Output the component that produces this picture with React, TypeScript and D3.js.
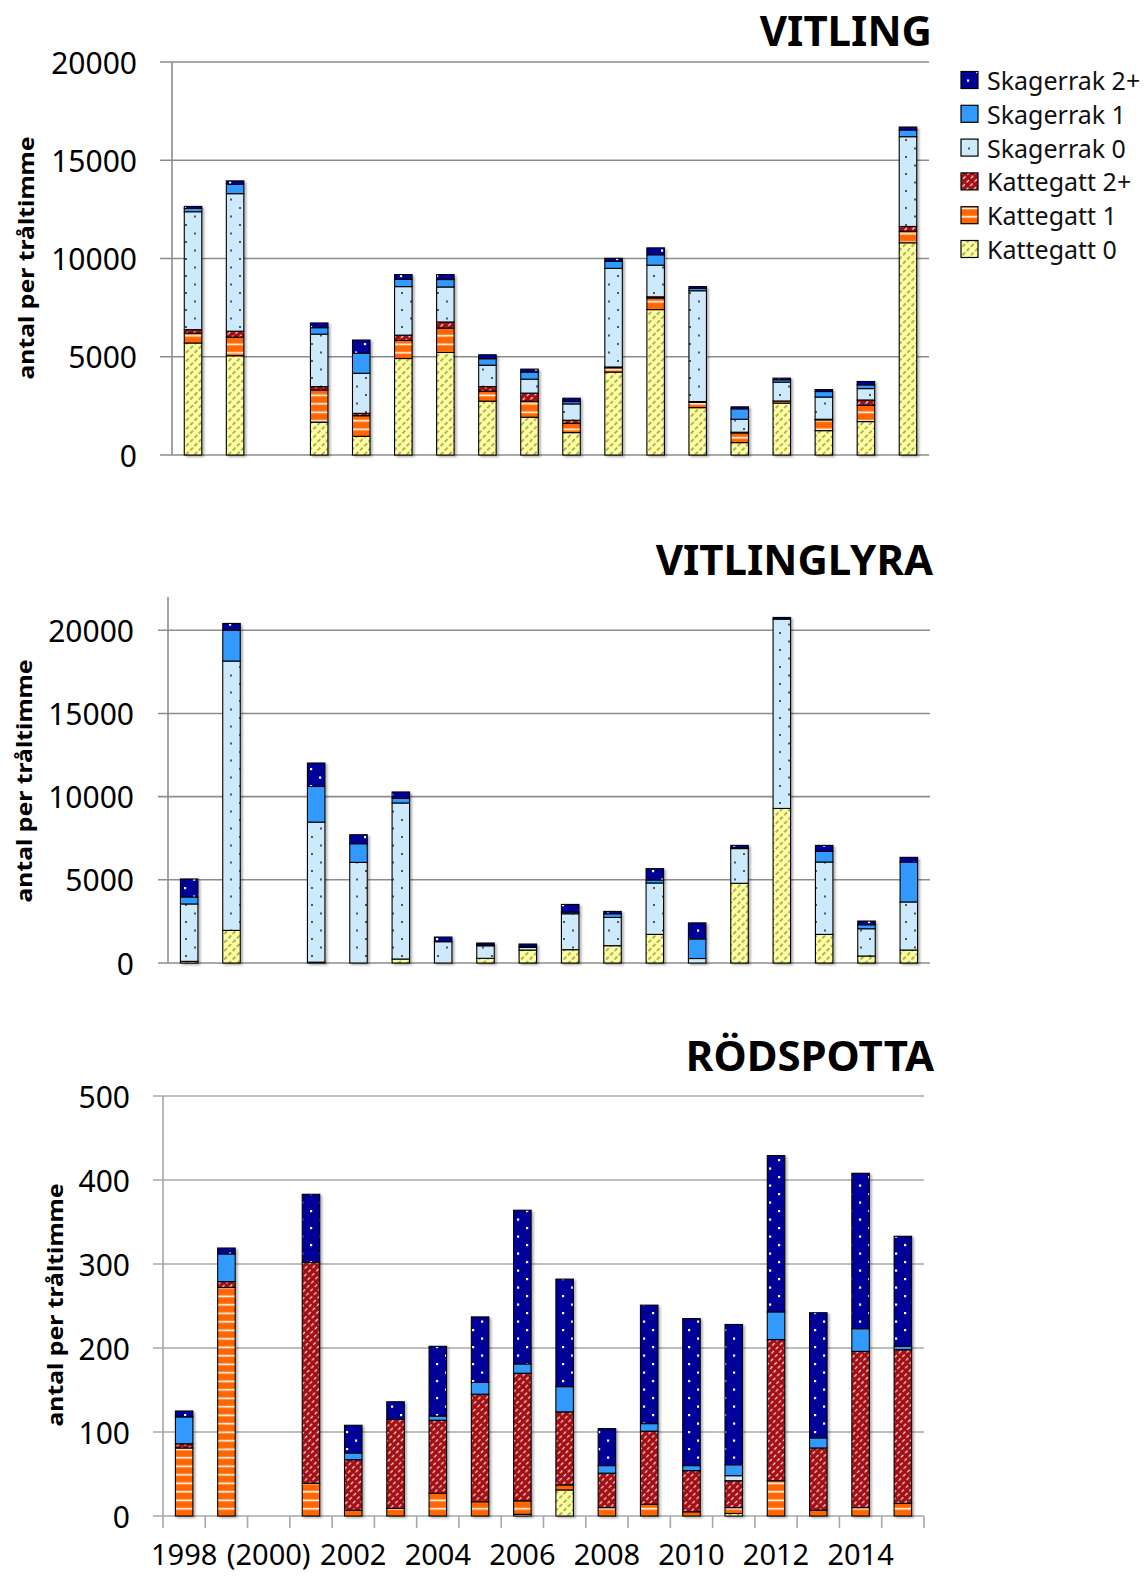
import React from 'react';
import * as d3 from 'd3';

// categories (2000 has no survey)
const YEARS = [1998, 1999, 2000, 2001, 2002, 2003, 2004, 2005, 2006, 2007, 2008, 2009, 2010, 2011, 2012, 2013, 2014, 2015];
const X_LABELS = ['1998', '', '(2000)', '', '2002', '', '2004', '', '2006', '', '2008', '', '2010', '', '2012', '', '2014', ''];

const KEYS = ['k0', 'k1', 'k2', 's0', 's1', 's2'];
const SERIES_NAMES: Record<string, string> = {
  k0: 'Kattegatt 0',
  k1: 'Kattegatt 1',
  k2: 'Kattegatt 2+',
  s0: 'Skagerrak 0',
  s1: 'Skagerrak 1',
  s2: 'Skagerrak 2+',
};

// VITLING
const vitK0 = [5700, 5050, null, 1670, 950, 4910, 5220, 2740, 1920, 1140, 4220, 7400, 2410, 630, 2640, 1240, 1700, 10800];
const vitK1 = [500, 950, null, 1640, 1050, 920, 1240, 510, 820, 470, 230, 590, 270, 500, 110, 560, 830, 590];
const vitK2 = [180, 300, null, 170, 120, 270, 310, 230, 410, 160, 30, 60, 40, 30, 0, 20, 270, 240];
const vitS0 = [6000, 7000, null, 2670, 2040, 2470, 1780, 1090, 710, 830, 5020, 1610, 5640, 660, 960, 1130, 580, 4570];
const vitS1 = [170, 480, null, 330, 1020, 370, 380, 330, 360, 120, 360, 530, 120, 530, 120, 280, 190, 340];
const vitS2 = [100, 170, null, 240, 670, 240, 250, 200, 150, 170, 150, 350, 90, 100, 80, 100, 170, 150];

// VITLINGLYRA
const lyrK0 = [100, 1960, null, 50, 0, 240, 0, 280, 780, 800, 1040, 1720, 0, 4790, 9290, 1720, 420, 780];
const lyrK1 = [0, 0, null, 0, 0, 0, 0, 0, 0, 0, 0, 0, 0, 0, 0, 0, 0, 0];
const lyrK2 = [0, 0, null, 0, 0, 0, 0, 0, 0, 0, 0, 0, 0, 0, 0, 0, 0, 0];
const lyrS0 = [3450, 16190, null, 8420, 6050, 9380, 1280, 760, 160, 2160, 1700, 3090, 270, 2100, 11380, 4350, 1640, 2890];
const lyrS1 = [420, 1860, null, 2140, 1120, 280, 0, 40, 60, 100, 220, 180, 1180, 30, 0, 640, 240, 2400];
const lyrS2 = [1080, 400, null, 1410, 540, 380, 280, 120, 140, 460, 140, 680, 960, 150, 100, 360, 220, 280];

// RÖDSPOTTA
const rodK0 = [0, 0, null, 0, 0, 0, 0, 0, 2, 31, 0, 0, 0, 3, 0, 0, 0, 0];
const rodK1 = [81, 272, null, 39, 7, 9, 27, 17, 16, 6, 10, 14, 5, 7, 42, 7, 10, 15];
const rodK2 = [5, 7, null, 263, 60, 106, 87, 128, 152, 87, 41, 87, 49, 32, 168, 74, 186, 183];
const rodS0 = [0, 0, null, 0, 0, 0, 0, 0, 0, 0, 0, 0, 0, 6, 0, 0, 0, 0];
const rodS1 = [32, 33, null, 0, 8, 0, 5, 14, 11, 30, 9, 9, 6, 13, 33, 12, 27, 4];
const rodS2 = [7, 7, null, 81, 33, 21, 83, 78, 183, 128, 44, 141, 175, 167, 186, 149, 185, 131];

const VIT_TICKS = [0, 5000, 10000, 15000, 20000];
const ROD_TICKS = [0, 100, 200, 300, 400, 500];

const FONT = '"Noto Sans", "Open Sans", sans-serif';

const FILLS: Record<string, string> = {
  k0: 'url(#p-k0)',
  k1: 'url(#p-k1)',
  k2: 'url(#p-k2)',
  s0: 'url(#p-s0)',
  s1: '#3399ff',
  s2: 'url(#p-s2)',
};

type Row = { year: string } & Record<string, number>;

interface PanelProps {
  title: string;
  series: (number | null)[][];
  yMax: number;
  ticks: number[];
  left: number;
  right: number;
  top: number;
  bottom: number;
  labelRight: number;
  tickLen: number;
  titleX: number;
  titleY: number;
  yTitleX: number;
  yTitleY: number;
  gridColor: string;
  showX?: boolean;
}

const Panel: React.FC<PanelProps> = (p) => {
  const y = d3.scaleLinear().domain([0, p.yMax]).range([p.bottom, p.top]);
  const x = d3.scaleBand().domain(YEARS.map(String)).range([p.left, p.right]).padding(0);
  const barW = 17.5;

  const rows: Row[] = YEARS.map((yr, i) => {
    const r: any = { year: String(yr) };
    KEYS.forEach((k, j) => (r[k] = p.series[j][i] ?? 0));
    r.missing = p.series[0][i] == null;
    return r;
  }).filter((r: any) => !r.missing);

  const stacked = d3.stack<Row>().keys(KEYS)(rows);

  return (
    <g>
      {/* grid */}
      {p.ticks.map((t) => (
        <g key={t}>
          <line x1={p.left - p.tickLen} x2={p.right} y1={y(t)} y2={y(t)} stroke={p.gridColor} strokeWidth={1.6} />
          <text
            x={p.labelRight}
            y={y(t)}
            textAnchor="end"
            dominantBaseline="central"
            fontFamily={FONT}
            fontSize={30}
            fill="#000"
          >
            {t}
          </text>
        </g>
      ))}
      <line x1={p.left} x2={p.left} y1={p.top} y2={p.showX ? p.bottom + 12 : p.bottom} stroke={p.gridColor} strokeWidth={1.6} />
      {p.showX &&
        YEARS.map((yr, i) => (
          <g key={yr}>
            <line
              x1={(x(String(yr)) as number) + x.bandwidth()}
              x2={(x(String(yr)) as number) + x.bandwidth()}
              y1={p.bottom}
              y2={p.bottom + 12}
              stroke={p.gridColor}
              strokeWidth={1.6}
            />
            {X_LABELS[i] && (
              <text
                x={(x(String(yr)) as number) + x.bandwidth() / 2}
                y={p.bottom + 49}
                textAnchor="middle"
                fontFamily={FONT}
                fontSize={29}
                fill="#000"
              >
                {X_LABELS[i]}
              </text>
            )}
          </g>
        ))}

      {/* bars */}
      <g filter="url(#shadow)">
        {stacked.map((layer) =>
          layer.map((d) => {
            if (d[1] - d[0] <= 0) return null;
            const x0 = (x(d.data.year) as number) + (x.bandwidth() - barW) / 2;
            return (
              <rect
                key={layer.key + d.data.year}
                x={x0}
                y={y(d[1])}
                width={barW}
                height={Math.max(y(d[0]) - y(d[1]), 0.8)}
                fill={FILLS[layer.key]}
                stroke="#000"
                strokeWidth={1.1}
              />
            );
          })
        )}
      </g>

      <text
        x={p.titleX}
        y={p.titleY}
        textAnchor="end"
        fontFamily={FONT}
        fontWeight="bold"
        fontSize={42}
        fill="#000"
      >
        {p.title}
      </text>
      <text
        transform={`translate(${p.yTitleX},${p.yTitleY}) rotate(-90)`}
        textAnchor="middle"
        dominantBaseline="central"
        fontFamily={FONT}
        fontWeight="bold"
        fontSize={22}
        textLength={243}
        lengthAdjust="spacingAndGlyphs"
        fill="#000"
      >
        antal per tråltimme
      </text>
    </g>
  );
};

const Legend: React.FC = () => {
  const order = [...KEYS].reverse();
  const rowY = d3.scaleLinear().domain([0, 5]).range([80, 249]);
  return (
    <g>
      {order.map((k, i) => (
        <g key={k}>
          <rect x={961} y={rowY(i) - 8.5} width={17} height={17} fill={FILLS[k]} stroke="#000" strokeWidth={1.2} />
          <text x={987} y={rowY(i)} dominantBaseline="central" fontFamily={FONT} fontSize={25} fill="#111">
            {SERIES_NAMES[k]}
          </text>
        </g>
      ))}
    </g>
  );
};

const App: React.FC = () => {
  return (
    <svg
      width={1148}
      height={1577}
      style={{ position: 'absolute', left: 0, top: 0, background: '#fff' }}
    >
      <defs>
        <filter id="shadow" x="-30%" y="-10%" width="160%" height="120%">
          <feDropShadow dx="2" dy="1.5" stdDeviation="1.3" floodColor="#000" floodOpacity="0.3" />
        </filter>
        <pattern id="p-s2" patternUnits="userSpaceOnUse" width={18} height={17}>
          <rect width={18} height={17} fill="#000099" />
          <rect x={4} y={3} width={2.2} height={2.2} fill="#fff" />
          <rect x={13} y={11.5} width={2.2} height={2.2} fill="#fff" />
        </pattern>
        <pattern id="p-s0" patternUnits="userSpaceOnUse" width={18} height={17}>
          <rect width={18} height={17} fill="#cdeafc" />
          <rect x={5} y={3} width={2} height={2} fill="#555" />
          <rect x={14} y={11.5} width={2} height={2} fill="#555" />
        </pattern>
        <pattern id="p-k2" patternUnits="userSpaceOnUse" width={5} height={6} patternTransform="rotate(45)">
          <rect width={5} height={6} fill="#a30f12" />
          <line x1={2.5} x2={2.5} y1={0} y2={6} stroke="#f3d9d9" strokeWidth={1.3} strokeDasharray="3.5 2.5" />
        </pattern>
        <pattern id="p-k1" patternUnits="userSpaceOnUse" width={10} height={8.5}>
          <rect width={10} height={8.5} fill="#ff6600" />
          <rect y={3.5} width={10} height={1.6} fill="#fff" />
        </pattern>
        <pattern id="p-k0" patternUnits="userSpaceOnUse" width={6} height={6} patternTransform="rotate(45)">
          <rect width={6} height={6} fill="#ffff99" />
          <line x1={3} x2={3} y1={0} y2={6} stroke="#6b6b55" strokeWidth={1.1} strokeDasharray="4 2" />
        </pattern>
      </defs>

      <Panel
        title="VITLING"
        series={[vitK0, vitK1, vitK2, vitS0, vitS1, vitS2]}
        yMax={20000}
        ticks={VIT_TICKS}
        left={172}
        right={929}
        top={62}
        bottom={455}
        labelRight={137}
        tickLen={12}
        titleX={932}
        titleY={46}
        yTitleX={25}
        yTitleY={258}
        gridColor="#8c8c8c"
      />
      <Panel
        title="VITLINGLYRA"
        series={[lyrK0, lyrK1, lyrK2, lyrS0, lyrS1, lyrS2]}
        yMax={22000}
        ticks={VIT_TICKS}
        left={168}
        right={930}
        top={597}
        bottom={963}
        labelRight={134}
        tickLen={10}
        titleX={933}
        titleY={575}
        yTitleX={23}
        yTitleY={781}
        gridColor="#8c8c8c"
      />
      <Panel
        title="RÖDSPOTTA"
        series={[rodK0, rodK1, rodK2, rodS0, rodS1, rodS2]}
        yMax={500}
        ticks={ROD_TICKS}
        left={163}
        right={924}
        top={1096}
        bottom={1516}
        labelRight={130}
        tickLen={10}
        titleX={934}
        titleY={1071}
        yTitleX={54}
        yTitleY={1305}
        gridColor="#a8a8a8"
        showX
      />
      <Legend />
    </svg>
  );
};

export default App;
